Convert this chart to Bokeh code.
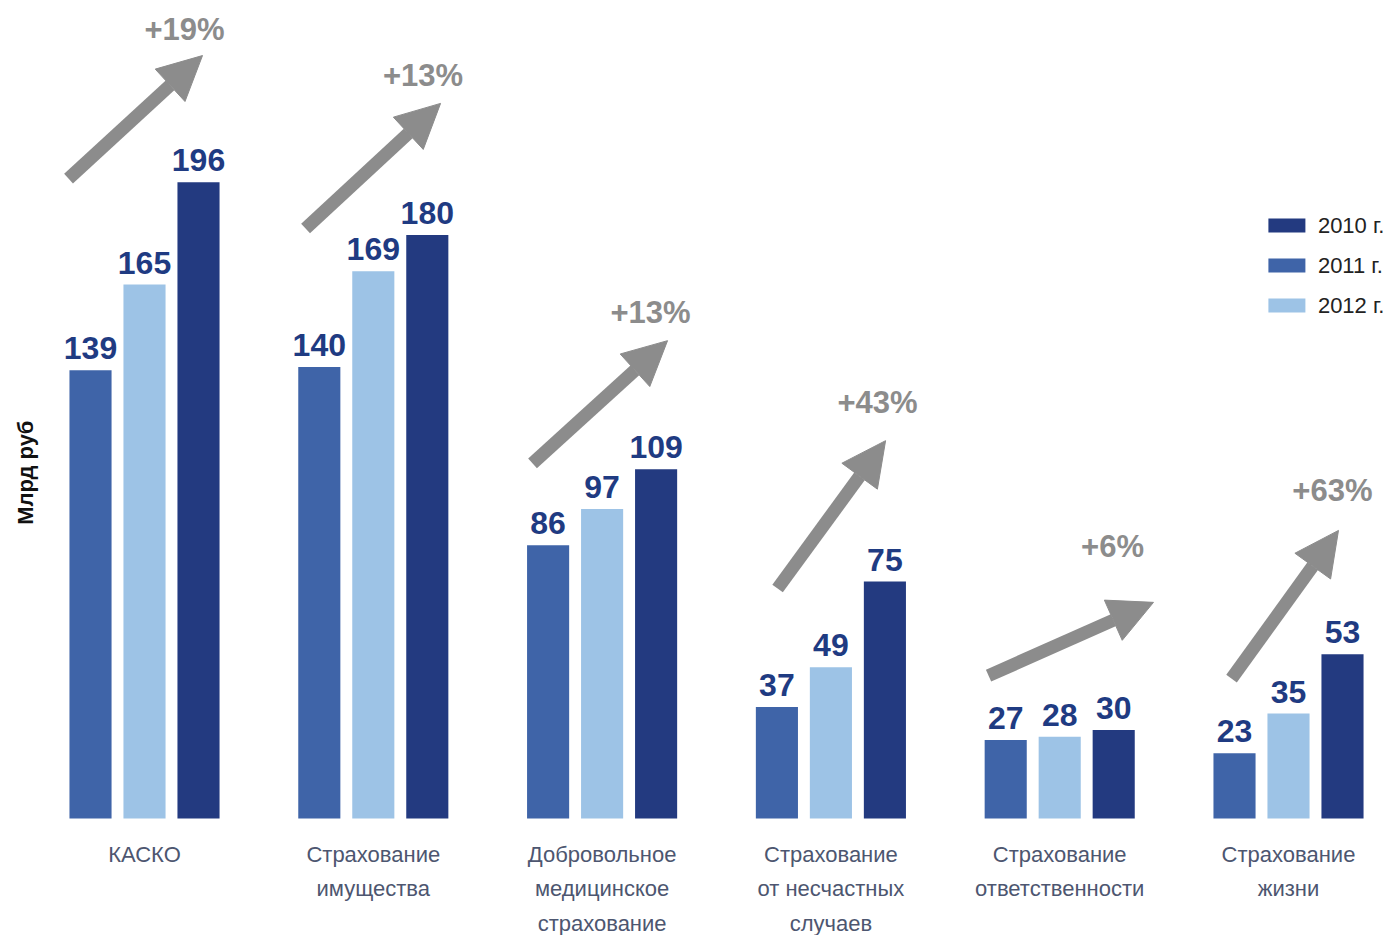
import numpy as np
from bokeh.plotting import figure
from bokeh.models import Range1d, ColumnDataSource, Arrow, NormalHead
from bokeh.core.properties import value
from bokeh.embed import file_html
from bokeh.resources import INLINE

# ---------------- data ----------------
categories = ["КАСКО",
              "Страхование\nимущества",
              "Добровольное\nмедицинское\nстрахование",
              "Страхование\nот несчастных\nслучаев",
              "Страхование\nответственности",
              "Страхование\nжизни"]
bar1 = [139, 140, 86, 37, 27, 23]
bar2 = [165, 169, 97, 49, 28, 35]
bar3 = [196, 180, 109, 75, 30, 53]
growth = ["+19%", "+13%", "+13%", "+43%", "+6%", "+63%"]
legend_labels = ["2010 г.", "2011 г.", "2012 г."]
y_title = "Млрд руб"

# ---------------- style / layout ----------------
C_MED = "#3F64A8"
C_LIGHT = "#9DC3E6"
C_DARK = "#233A80"
bar_colors = [C_MED, C_LIGHT, C_DARK]
legend_colors = [C_DARK, C_MED, C_LIGHT]
LABEL_COLOR = "#1F3B82"
GREY = "#8C8C8C"
CAT_COLOR = "#4D5670"
FONT = "Liberation Sans"

Y_FLOOR = 3.2
BAR_OFFS = [-0.236, 0.0, 0.236]
BAR_W = 0.184

# arrow geometry relative to group centre / group maximum
tail_dx = [-0.332, -0.296, -0.304, -0.233, -0.311, -0.249]
tail_dy = [1.1, 2.0, 1.8, -2.1, 16.5, -7.4]
tip_dx = [0.2535, 0.294, 0.286, 0.239, 0.410, 0.2185]
tip_dy = [38.4, 39.9, 39.0, 42.7, 38.7, 37.5]
pct_dx = [0.175, 0.217, 0.2115, 0.204, 0.231, 0.192]
pct_dy = [46.3, 48.5, 47.4, 54.4, 55.6, 49.7]

W, H = 1393, 935
p = figure(width=W, height=H, output_backend="svg", toolbar_location=None,
           x_range=Range1d(-0.6294, 5.4589), y_range=Range1d(-32.25, 251.08),
           x_axis_location=None, y_axis_location=None,
           min_border=0, min_border_left=0, min_border_right=0,
           min_border_top=0, min_border_bottom=0)
p.outline_line_color = None
p.xgrid.visible = False
p.ygrid.visible = False
p.background_fill_color = "white"
p.border_fill_color = "white"

groups = np.arange(len(categories))
series = [bar1, bar2, bar3]

# bars + value labels
for k, vals in enumerate(series):
    xs = groups + BAR_OFFS[k]
    src = ColumnDataSource(dict(x=xs, top=vals, txt=[str(v) for v in vals]))
    p.vbar(x="x", top="top", bottom=Y_FLOOR, width=BAR_W, source=src,
           fill_color=bar_colors[k], line_color=None)
    p.text(x="x", y="top", text="txt", source=src, text_align="center",
           text_baseline="alphabetic", y_offset=-22,
           text_font=value(FONT), text_font_style="bold",
           text_font_size="32px", text_color=LABEL_COLOR)

# arrows
gmax = [max(a, b, c) for a, b, c in zip(bar1, bar2, bar3)]
arrow_src = ColumnDataSource(dict(
    x0=[g + d for g, d in zip(groups, tail_dx)],
    y0=[m + d for m, d in zip(gmax, tail_dy)],
    x1=[g + d for g, d in zip(groups, tip_dx)],
    y1=[m + d for m, d in zip(gmax, tip_dy)],
))
p.add_layout(Arrow(x_start="x0", y_start="y0", x_end="x1", y_end="y1",
                   source=arrow_src, line_color=GREY, line_width=13,
                   end=NormalHead(size=44, fill_color=GREY, line_color=GREY,
                                  line_width=1)))

# percent labels
pct_src = ColumnDataSource(dict(
    x=[g + d for g, d in zip(groups, pct_dx)],
    y=[m + d for m, d in zip(gmax, pct_dy)],
    txt=growth))
p.text(x="x", y="y", text="txt", source=pct_src, text_align="center",
       text_baseline="alphabetic", text_font=value(FONT),
       text_font_style="bold", text_font_size="31px", text_color=GREY)

# category labels
cat_src = ColumnDataSource(dict(x=groups, y=[Y_FLOOR - 7.0] * len(groups),
                                txt=categories))
p.text(x="x", y="y", text="txt", source=cat_src, text_align="center",
       text_baseline="top", text_font=value(FONT), text_font_size="22px",
       text_line_height=1.39, text_color=CAT_COLOR)

# y title
p.text(x=[-0.52], y=[108.0], text=[y_title], angle=np.pi / 2,
       text_align="center", text_baseline="middle", text_font=value(FONT),
       text_font_style="bold", text_font_size="22px", text_color="#111111")

# legend
leg_x = 4.993
leg_y = [182.9 - 12.12 * i for i in range(3)]
p.rect(x=[leg_x] * 3, y=leg_y, width=37, height=14, width_units="screen",
       height_units="screen", fill_color=legend_colors, line_color=None)
p.text(x=[leg_x] * 3, y=leg_y, text=legend_labels, x_offset=31,
       text_align="left", text_baseline="middle", text_font=value(FONT),
       text_font_size="22px", text_color="#222222")

open("out.html", "w").write(file_html(p, INLINE))
